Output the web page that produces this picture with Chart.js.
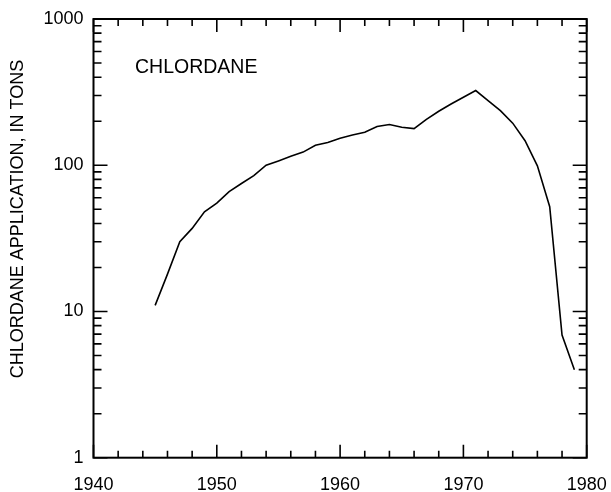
<!DOCTYPE html>
<html>
<head>
<meta charset="utf-8">
<script src="https://cdn.jsdelivr.net/npm/chart.js@4/dist/chart.umd.min.js"></script>
<style>
  html, body { margin: 0; padding: 0; background: #fff; }
  #wrap { width: 611px; height: 492px; position: relative; }
</style>
</head>
<body>
<div id="wrap"><canvas id="c" width="611" height="492"></canvas></div>
<script>
const years = [1945,1946,1947,1948,1949,1950,1951,1952,1953,1954,1955,1956,1957,1958,1959,1960,1961,1962,1963,1964,1965,1966,1967,1968,1969,1970,1971,1972,1973,1974,1975,1976,1977,1978,1979];
const tons = [11,18,30,37,48,55,66,75,85,100,107,115,123,137,143,153,161,168,184,190,182,178,206,234,262,292,324,277,236,194,147,99,52,6.9,4.0];
const xTickLabels = [1940,1950,1960,1970,1980];
const yTickLabels = [1,10,100,1000];
const seriesLabel = 'CHLORDANE';
const yTitle = 'CHLORDANE APPLICATION, IN TONS';

const FONT = '"Liberation Sans", Arial, Helvetica, sans-serif';

const frame = {
  id: 'frame',
  afterDraw(chart) {
    const ctx = chart.ctx;
    const a = chart.chartArea;
    const xs = chart.scales.x, ys = chart.scales.y;
    ctx.save();
    ctx.strokeStyle = '#000';
    ctx.lineWidth = 1.6;
    for (let yr = 1940; yr <= 1980; yr += 2) {
      const px = xs.getPixelForValue(yr);
      const len = (yr % 10 === 0) ? 13 : 7;
      ctx.beginPath();
      ctx.moveTo(px, a.bottom); ctx.lineTo(px, a.bottom - len);
      ctx.moveTo(px, a.top); ctx.lineTo(px, a.top + len);
      ctx.stroke();
    }
    for (let d = 1; d <= 1000; d *= 10) {
      for (let m = 1; m <= 9; m++) {
        const v = d * m;
        if (v > 1000) break;
        const py = ys.getPixelForValue(v);
        const len = (m === 1) ? 14 : 8;
        ctx.beginPath();
        ctx.moveTo(a.left, py); ctx.lineTo(a.left + len, py);
        ctx.moveTo(a.right, py); ctx.lineTo(a.right - len, py);
        ctx.stroke();
      }
    }
    ctx.lineWidth = 2;
    ctx.strokeRect(a.left, a.top, a.right - a.left, a.bottom - a.top);
    ctx.fillStyle = '#000';
    ctx.font = '19.5px ' + FONT;
    ctx.textAlign = 'left';
    ctx.textBaseline = 'middle';
    ctx.fillText(seriesLabel, 135, 68);
    ctx.translate(18.5, 219);
    ctx.rotate(-Math.PI / 2);
    ctx.font = '18px ' + FONT;
    ctx.textAlign = 'center';
    ctx.fillText(yTitle, 0, 0);
    ctx.restore();
  }
};

new Chart(document.getElementById('c'), {
  type: 'line',
  data: {
    datasets: [{
      label: seriesLabel,
      data: years.map((y, i) => ({ x: y, y: tons[i] })),
      borderColor: '#000',
      borderWidth: 1.6,
      pointRadius: 0,
      tension: 0,
      fill: false
    }]
  },
  options: {
    responsive: false,
    animation: false,
    devicePixelRatio: 1,
    layout: { padding: { left: 0, right: 24.3, top: 19, bottom: 0 } },
    plugins: { legend: { display: false }, tooltip: { enabled: false } },
    scales: {
      x: {
        type: 'linear',
        min: 1940, max: 1980,
        afterBuildTicks(s) { s.ticks = xTickLabels.map(v => ({ value: v })); },
        afterFit(s) { s.height = 492 - 457.7; s.paddingLeft = 0; s.paddingRight = 0; },
        grid: { display: false, drawTicks: false },
        border: { display: false },
        ticks: { color: '#000', font: { family: FONT, size: 18 }, padding: 17, maxRotation: 0, autoSkip: false,
                 callback: v => String(v) }
      },
      y: {
        type: 'logarithmic',
        min: 1, max: 1000,
        afterBuildTicks(s) { s.ticks = yTickLabels.map(v => ({ value: v })); },
        afterFit(s) { s.width = 93.5; s.paddingTop = 0; s.paddingBottom = 0; },
        grid: { display: false, drawTicks: false },
        border: { display: false },
        ticks: { color: '#000', font: { family: FONT, size: 18 }, padding: 10, autoSkip: false,
                 callback: v => String(v) }
      }
    }
  },
  plugins: [frame]
});
</script>
</body>
</html>
